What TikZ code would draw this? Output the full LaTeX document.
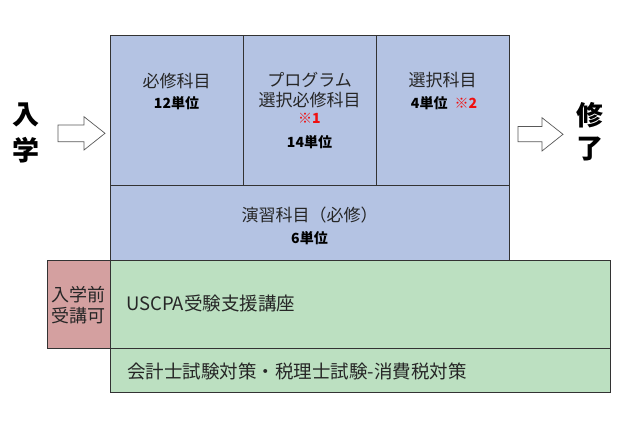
\documentclass[tikz,border=0pt]{standalone}
\usepackage{fontspec}
\setmainfont{Noto Sans CJK JP}
\definecolor{bluec}{HTML}{B4C3E3}
\definecolor{greenc}{HTML}{BCE0C1}
\definecolor{pinkc}{HTML}{D4A0A0}
\definecolor{linec}{HTML}{333333}
\definecolor{redc}{HTML}{F01010}
\begin{document}
\begin{tikzpicture}[x=1pt,y=-1pt,
  cell/.style={draw=linec, line width=0.9pt, inner sep=0pt, outer sep=0pt, anchor=north west},
  lbl/.style={inner sep=0pt, text=black!85, font=\fontsize{17}{19}\selectfont},
  glbl/.style={inner sep=0pt, text=black!85, font=\fontsize{18.5}{20}\selectfont, anchor=west},
  num/.style={inner sep=0pt, text=black, font=\fontsize{14}{16}\selectfont\bfseries},
  big/.style={inner sep=0pt, text=black, font=\fontsize{27}{30}\selectfont\bfseries},
  hollow/.style={draw=black!65, line width=0.7pt, fill=white}]
\useasboundingbox (0,0) rectangle (642,440);
% blue block
\node[cell, fill=bluec, minimum width=133pt, minimum height=150pt] (c1) at (110,35) {};
\node[cell, fill=bluec, minimum width=133pt, minimum height=150pt] (c2) at (243,35) {};
\node[cell, fill=bluec, minimum width=133pt, minimum height=150pt] (c3) at (376,35) {};
\node[cell, fill=bluec, minimum width=399pt, minimum height=75pt] (c4) at (110,185) {};
% green / pink
\node[cell, fill=greenc, minimum width=500pt, minimum height=88pt] (g1) at (110,260) {};
\node[cell, fill=pinkc, minimum width=63pt, minimum height=88pt] (p1) at (47,260) {};
\node[cell, fill=greenc, minimum width=500pt, minimum height=44pt] (g2) at (110,348) {};
% texts in blue cells
\node[lbl] (t1a) at (176.5,81) {必修科目};
\node[num] (t1b) at (176.5,103) {12単位};
\node[lbl] (t2a) at (309.5,80) {プログラム};
\node[lbl] (t2b) at (309.5,100) {選択必修科目};
\node[num, text=redc] (t2c) at (309.5,118) {※1};
\node[num] (t2d) at (309.5,142) {14単位};
\node[lbl] (t3a) at (442.5,80) {選択科目};
\node[num] (t3b) at (444,103) {4単位\hspace{0.5em}\textcolor{redc}{※2}};
\node[lbl] (t4a) at (309.5,215) {演習科目（必修）};
\node[num] (t4b) at (309.5,238) {6単位};
% pink and green texts
\node[lbl, align=center, font=\fontsize{18}{20.5}\selectfont] (pt) at (78.5,305) {入学前\\受講可};
\node[glbl] (gt1) at (126,303) {USCPA受験支援講座};
\node[glbl] (gt2) at (127,371) {会計士試験対策・税理士試験-消費税対策};
% entry / completion
\node[big] (in1) at (26,115) {入};
\node[big] (in2) at (26,150) {学};
\node[big] (out1) at (590,115) {修};
\node[big] (out2) at (590,149) {了};
% hollow arrows
\draw[hollow] (58,125) -- (84,125) -- (84,116.7) -- (105,133.3) -- (84,150) -- (84,141.7) -- (58,141.7) -- cycle;
\draw[hollow] (518,126.5) -- (542,126.5) -- (542,117.7) -- (563,134.3) -- (542,151) -- (542,141.7) -- (518,141.7) -- cycle;
\end{tikzpicture}
\end{document}
